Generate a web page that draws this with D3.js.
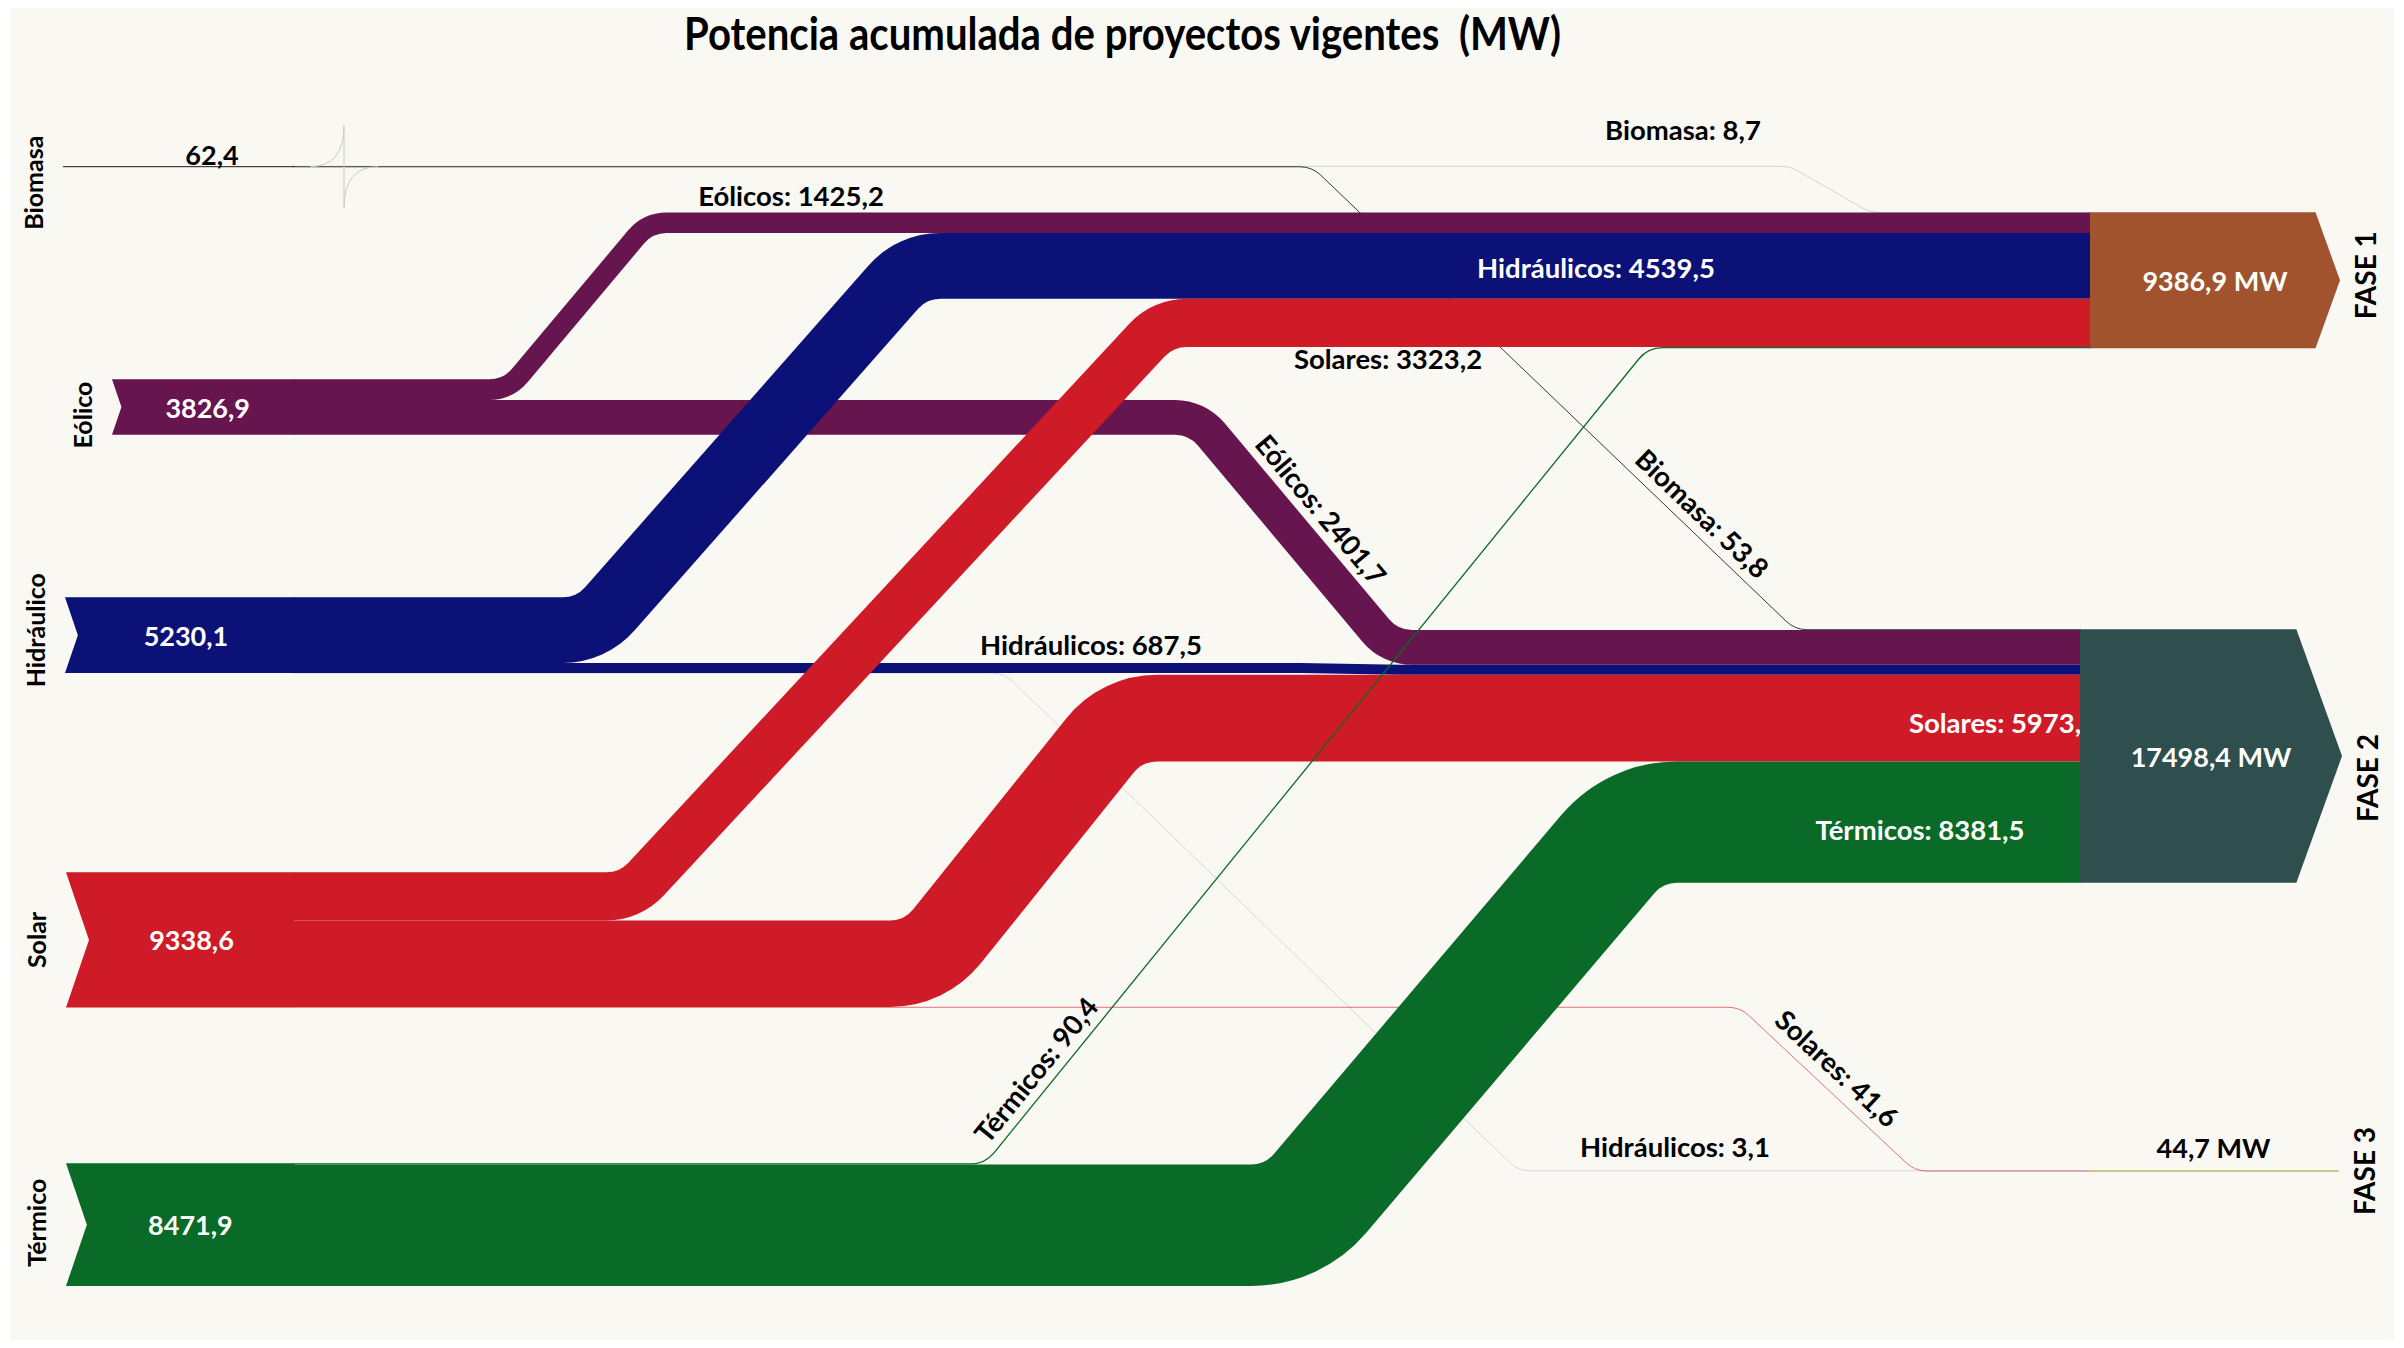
<!DOCTYPE html>
<html>
<head>
<meta charset="utf-8">
<script src="https://cdn.jsdelivr.net/npm/d3@7"></script>
<style>
  html, body { margin: 0; padding: 0; background: #ffffff; }
  svg { display: block; }
  text { font-family: Lato, "Open Sans", sans-serif; font-weight: 700; white-space: pre; }
</style>
</head>
<body>
<svg id="chart"></svg>
<script>
// Potencia acumulada de proyectos vigentes (MW) - sankey by technology and phase

// ---- data ----
const sources = ["Biomasa", "Eólico", "Hidráulico", "Solar", "Térmico"];
const sourceTotals = [62.4, 3826.9, 5230.1, 9338.6, 8471.9];
const flowNames = ["Biomasa", "Eólicos", "Hidráulicos", "Solares", "Térmicos"];
const phases = ["FASE 1", "FASE 2", "FASE 3"];
const phaseTotals = [9386.9, 17498.4, 44.7];
// MW of each source going to each phase (same order as sources)
const fase1 = [8.7, 1425.2, 4539.5, 3323.2, 90.4];
const fase2 = [53.8, 2401.7, 687.5, 5973.9, 8381.5];
const fase3 = [0, 0, 3.1, 41.6, 0];

// ---- layout ----
const W = 2404, H = 1348;
const sourceColors = ["#000000", "#67154e", "#0c1177", "#cf1a28", "#0a6a27"];
const phaseColors = ["#a0532d", "#2f4f4f", "#bdb76b"];

const srcRight = 294;
const srcLeft = [63, 112, 65, 66, 66];
const srcTop = [166.25, 379.3, 597.3, 872.3, 1163.3];
const srcLabelDy = [16, 8, -5, 0, -2];

const tgtLeft = [2090, 2080, 2088];
const tgtTip = [2340, 2342, 2339];
const tgtTop = [212.3, 629.3, 1170.7];
const tgtLabelDy = [-5, 22, 0];

// where each link leaves its row and where it reaches the target row
const bends = {
  "0-0": [1790, 1870], "0-1": [1312, 1795],
  "1-0": [508, 648],   "1-1": [1197, 1390],
  "2-0": [591, 912],   "2-1": [1300, 1400], "2-2": [1004, 1518],
  "3-0": [630, 1163],  "3-1": [925, 1122],  "3-2": [1740, 1915],
  "4-0": [985, 1648],  "4-1": [1293, 1635]
};

// label placement: "h" = horizontal at x, dy from band centre; "d" = along diagonal
const linkLabels = {
  "0-0": {mode: "h", x: 1683, dy: -83, fill: "#000"},
  "0-1": {mode: "d", t: 0.78, off: 20, fill: "#000"},
  "1-0": {mode: "h", x: 791, dy: -27, fill: "#000"},
  "1-1": {mode: "d", t: 0.5, off: 36, fill: "#000"},
  "2-0": {mode: "h", x: 1596, dy: 2, fill: "#fff"},
  "2-1": {mode: "h", x: 1091, dy: -25, fill: "#000"},
  "2-2": {mode: "h", x: 1675, dy: -24, fill: "#000"},
  "3-0": {mode: "h", x: 1388, dy: 36, fill: "#000"},
  "3-1": {mode: "h", x: 2003, dy: 4, fill: "#fff"},
  "3-2": {mode: "d", t: 0.47, off: 22, fill: "#000"},
  "4-0": {mode: "d", t: 0.1, off: 20, fill: "#000"},
  "4-1": {mode: "h", x: 1920, dy: 7, fill: "#fff"}
};

const fmt = v => d3.format(".1f")(v).replace(".", ",");

const svg = d3.select("#chart").attr("width", W).attr("height", H);

svg.append("rect").attr("width", W).attr("height", H).attr("fill", "#ffffff");
svg.append("rect")
    .attr("x", 10).attr("y", 8)
    .attr("width", W - 20).attr("height", H - 16)
    .attr("fill", "#f9f8f3");

// thickness scale MW -> px
const th = d3.scaleLinear().domain([0, d3.max(phaseTotals)]).range([0, 253.5]);

// build links
const phaseValues = [fase1, fase2, fase3];
const links = [];
sources.forEach((s, i) => {
    phaseValues.forEach((vals, j) => {
        if (vals[i] > 0) links.push({source: i, target: j, value: vals[i], key: i + "-" + j});
    });
});

const srcOffset = sources.map(() => 0);
const tgtOffset = phases.map(() => 0);
links.forEach(l => {
    l.w = th(l.value);
    l.y0 = srcTop[l.source] + srcOffset[l.source] + l.w / 2;
    srcOffset[l.source] += l.w;
});
links.forEach(l => {
    l.y1 = tgtTop[l.target] + tgtOffset[l.target] + l.w / 2;
    tgtOffset[l.target] += l.w;
});

function linkPath(l) {
    const [xa, xb] = bends[l.key];
    const r = l.w / 2 + 30;
    const xEnd = tgtLeft[l.target] + 1;
    const p = d3.path();
    p.moveTo(srcRight - 1, l.y0);
    p.arcTo(xa, l.y0, xb, l.y1, r);
    p.arcTo(xb, l.y1, xEnd, l.y1, r);
    p.lineTo(xEnd, l.y1);
    return p.toString();
}

// links
svg.append("g").attr("class", "links")
  .selectAll("path")
  .data(links)
  .join("path")
    .attr("d", linkPath)
    .attr("fill", "none")
    .attr("stroke", d => sourceColors[d.source])
    .attr("stroke-width", d => Math.max(d.w, 1))
    .attr("stroke-opacity", d => d.w < 1 ? Math.max(d.w, 0.15) : 1)
    .attr("stroke-linecap", "butt");

// link labels
const labelG = svg.append("g").attr("class", "link-labels");
links.forEach(l => {
    const spec = linkLabels[l.key];
    const text = flowNames[l.source] + ": " + fmt(l.value);
    const t = labelG.append("text")
        .attr("text-anchor", "middle")
        .attr("dominant-baseline", "central")
        .attr("font-size", 27.5)
        .attr("fill", spec.fill)
        .text(text);
    if (spec.mode === "h") {
        t.attr("x", spec.x).attr("y", l.y1 + spec.dy);
    } else {
        const [xa, xb] = bends[l.key];
        const dx = xb - xa, dy = l.y1 - l.y0;
        const len = Math.hypot(dx, dy);
        const ux = dx / len, uy = dy / len;
        const nx = uy, ny = -ux;
        const cx = xa + dx * spec.t + nx * spec.off;
        const cy = l.y0 + dy * spec.t + ny * spec.off;
        const ang = Math.atan2(uy, ux) * 180 / Math.PI;
        t.attr("transform", `translate(${cx},${cy}) rotate(${ang})`);
    }
});

// source nodes (notched tails)
const srcG = svg.append("g").attr("class", "sources");
sources.forEach((s, i) => {
    const h = th(sourceTotals[i]);
    const top = srcTop[i], mid = top + h / 2, left = srcLeft[i];
    const notch = 0.17 * h;
    if (h < 2) {
        srcG.append("line")
            .attr("x1", left).attr("x2", srcRight)
            .attr("y1", mid).attr("y2", mid)
            .attr("stroke", sourceColors[i]).attr("stroke-width", 1)
            .attr("stroke-opacity", Math.max(h, 0.15));
        // hairline arrow outline left by the tiny flow
        const p = d3.path();
        const ax = srcRight + 50;
        p.moveTo(srcRight + 16, mid);
        p.quadraticCurveTo(ax, mid, ax, mid - 41);
        p.lineTo(ax, mid + 41);
        p.quadraticCurveTo(ax, mid, ax + 34, mid);
        srcG.append("path").attr("d", p.toString())
            .attr("fill", "none").attr("stroke", "#c9c9c6").attr("stroke-width", 1);
    } else {
        srcG.append("path")
            .attr("d", `M${left},${top}H${srcRight}V${top + h}H${left}L${left + notch},${mid}Z`)
            .attr("fill", sourceColors[i]);
    }
    const small = h < 20;
    srcG.append("text")
        .attr("x", small ? 212 : (left + notch + srcRight) / 2)
        .attr("y", small ? mid - 12 : mid)
        .attr("text-anchor", "middle")
        .attr("dominant-baseline", "central")
        .attr("font-size", 27)
        .attr("fill", small ? "#000" : "#fff")
        .text(fmt(sourceTotals[i]));
    srcG.append("text")
        .attr("transform", `translate(${left - 30},${mid + srcLabelDy[i]}) rotate(-90)`)
        .attr("text-anchor", "middle")
        .attr("dominant-baseline", "central")
        .attr("font-size", 25)
        .attr("fill", "#000")
        .text(s);
});

// target nodes (arrow heads)
const tgtG = svg.append("g").attr("class", "targets");
phases.forEach((f, j) => {
    const h = th(phaseTotals[j]);
    const top = tgtTop[j], mid = top + h / 2, left = tgtLeft[j], tip = tgtTip[j];
    const head = 0.18 * h;
    if (h < 2) {
        tgtG.append("line")
            .attr("x1", left).attr("x2", tip)
            .attr("y1", mid).attr("y2", mid)
            .attr("stroke", phaseColors[j]).attr("stroke-width", 1.3);
    } else {
        tgtG.append("path")
            .attr("d", `M${left},${top}H${tip - head}L${tip},${mid}L${tip - head},${top + h}H${left}Z`)
            .attr("fill", phaseColors[j]);
    }
    const small = h < 20;
    tgtG.append("text")
        .attr("x", (left + tip) / 2)
        .attr("y", small ? mid - 24 : mid)
        .attr("text-anchor", "middle")
        .attr("dominant-baseline", "central")
        .attr("font-size", 27)
        .attr("fill", small ? "#000" : "#fff")
        .text(fmt(phaseTotals[j]) + " MW");
    tgtG.append("text")
        .attr("transform", `translate(${tip + 25},${mid + tgtLabelDy[j]}) rotate(-90)`)
        .attr("text-anchor", "middle")
        .attr("dominant-baseline", "central")
        .attr("font-size", 28)
        .attr("fill", "#000")
        .text(f);
});

// title
svg.append("text")
    .attr("x", 684).attr("y", 50)
    .attr("font-size", 46)
    .attr("textLength", 877)
    .attr("lengthAdjust", "spacingAndGlyphs")
    .attr("fill", "#000")
    .text("Potencia acumulada de proyectos vigentes  (MW)");
</script>
</body>
</html>
